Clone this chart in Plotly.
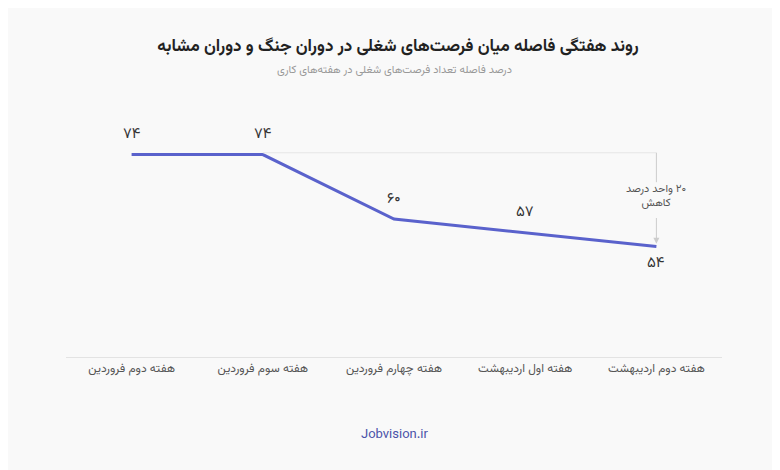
import plotly.graph_objects as go

weeks = ["هفته دوم فروردین", "هفته سوم فروردین", "هفته چهارم فروردین",
         "هفته اول اردیبهشت", "هفته دوم اردیبهشت"]
gap_pct = [74, 74, 60, 57, 54]
label_above = [True, True, True, True, False]

fa_digits = str.maketrans("0123456789", "۰۱۲۳۴۵۶۷۸۹")
labels = [str(v).translate(fa_digits) for v in gap_pct]
drop = gap_pct[0] - gap_pct[-1]

FONT = "Vazirmatn, DejaVu Sans, sans-serif"
BG = "#f9f9f9"
GUIDE = "#cccccc"

fig = go.Figure()
fig.add_trace(go.Scatter(
    x=weeks, y=gap_pct,
    mode="lines",
    line=dict(color="#5a62cc", width=3),
    hoverinfo="skip",
    showlegend=False,
))

# value labels
for w, v, t, up in zip(weeks, gap_pct, labels, label_above):
    fig.add_annotation(x=w, y=v, xref="x", yref="y", text=t, showarrow=False,
                       yshift=20 if up else -17,
                       font=dict(size=15, color="#333333", family=FONT))

# faint reference line at the starting level
top = gap_pct[0] + 0.4
fig.add_shape(type="line", xref="x", yref="y",
              x0=weeks[1], x1=weeks[-1], y0=top, y1=top,
              line=dict(color="#e6e6e6", width=1))

# drop indicator: upper segment, then label with arrow down to the last point
mid = (gap_pct[0] + gap_pct[-1]) / 2
fig.add_shape(type="line", xref="x", yref="y",
              x0=weeks[-1], x1=weeks[-1], y0=top, y1=mid + 4.0,
              line=dict(color=GUIDE, width=1))
fig.add_annotation(x=weeks[-1], y=gap_pct[-1] + 0.6,
                   ax=weeks[-1], ay=mid + 1.0,
                   xref="x", yref="y", axref="x", ayref="y",
                   text="\u200f" + f"{str(drop).translate(fa_digits)} واحد درصد<br>\u200fکاهش",
                   showarrow=True, startstandoff=5,
                   arrowhead=2, arrowsize=1.2, arrowwidth=1,
                   arrowcolor=GUIDE,
                   font=dict(size=11, color="#555555", family=FONT))

fig.update_layout(
    width=780, height=470,
    paper_bgcolor=BG, plot_bgcolor=BG,
    margin=dict(l=58, r=66, t=96, b=121),
    font=dict(family=FONT, color="#555555"),
    title=dict(text="<b>روند هفتگی فاصله میان فرصت‌های شغلی در دوران جنگ و دوران مشابه</b>",
               x=0.5, xanchor="center", y=0.921, yanchor="middle",
               font=dict(size=17, color="#222222", family=FONT)),
)
fig.add_annotation(text="درصد فاصله تعداد فرصت‌های شغلی در هفته‌های کاری",
                   xref="paper", yref="paper", x=0.5, y=1.134, yanchor="middle",
                   showarrow=False, font=dict(size=11, color="#999999", family=FONT))
fig.add_annotation(text="Jobvision.ir",
                   xref="paper", yref="paper", x=0.5, y=-0.308, yanchor="middle",
                   showarrow=False, font=dict(size=13, color="#4a52a8", family=FONT))

fig.update_xaxes(showgrid=False, zeroline=False, showline=True,
                 linecolor="#e3e3e3", linewidth=1, ticks="",
                 tickfont=dict(size=12, color="#555555", family=FONT),
                 range=[-0.5, 4.5], fixedrange=True)
fig.update_yaxes(range=[30, 85], showgrid=False, zeroline=False,
                 showticklabels=False, showline=False, fixedrange=True)

fig.write_html("out.html")
